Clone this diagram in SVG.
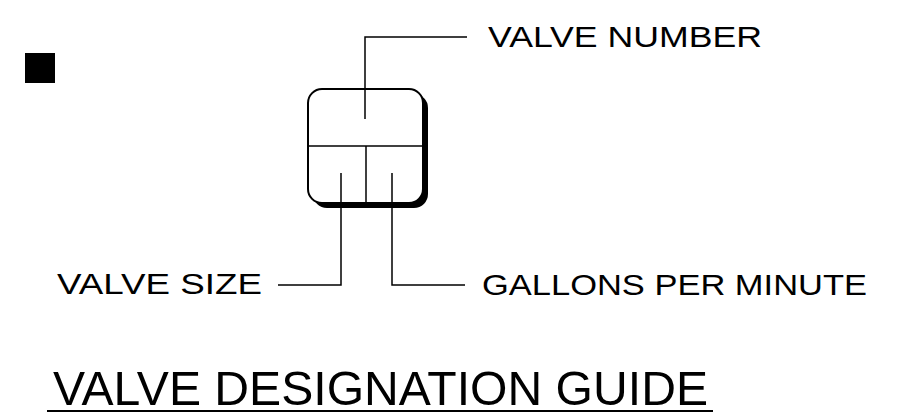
<svg xmlns="http://www.w3.org/2000/svg" width="900" height="416" viewBox="0 0 900 416">
<style>
.lbl{font-family:"Liberation Sans",Arial,sans-serif;font-size:29px;fill:#000;}
.ttl{font-family:"Liberation Sans",Arial,sans-serif;font-size:48px;fill:#000;}
.ln{stroke:#000;stroke-width:1.5;fill:none;}
</style>
<rect width="900" height="416" fill="#fff"/>
<rect id="bullet" x="25" y="53" width="30" height="30" fill="#000"/>
<g id="valve-symbol">
<rect x="313" y="94" width="115" height="114" rx="14" fill="#000"/>
<rect x="308" y="89" width="115" height="114" rx="14" fill="#fff" stroke="#000" stroke-width="2"/>
<line class="ln" x1="308" y1="146" x2="423" y2="146"/>
<line class="ln" x1="366" y1="146" x2="366" y2="203"/>
</g>
<g id="connectors">
<polyline class="ln" points="365,119 365,37 467,37"/>
<polyline class="ln" points="341,173 341,285 278,285"/>
<polyline class="ln" points="392,173 392,285 465,285"/>
<line x1="47" y1="411" x2="713" y2="411" stroke="#000" stroke-width="2"/>
</g>
<g id="label-number"><text class="lbl" x="488" y="47" textLength="274" lengthAdjust="spacingAndGlyphs">VALVE NUMBER</text></g>
<g id="label-size"><text class="lbl" x="57" y="294" textLength="205" lengthAdjust="spacingAndGlyphs">VALVE SIZE</text></g>
<g id="label-gpm"><text class="lbl" x="482" y="295" textLength="385" lengthAdjust="spacingAndGlyphs">GALLONS PER MINUTE</text></g>
<g id="title"><text class="ttl" x="53" y="405" textLength="655" lengthAdjust="spacingAndGlyphs">VALVE DESIGNATION GUIDE</text></g>
</svg>
